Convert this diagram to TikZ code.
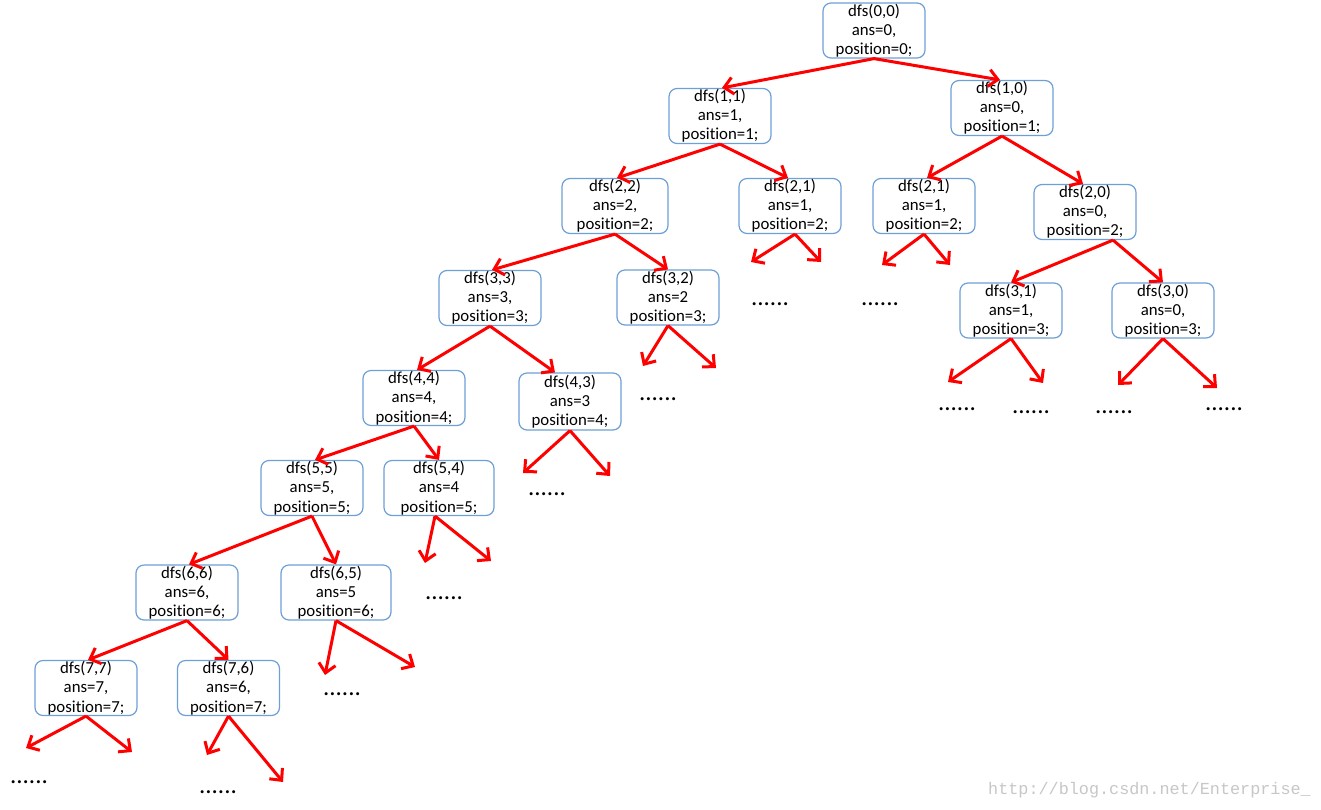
\documentclass[tikz,border=0pt]{standalone}
\usepackage{fontspec}
\setmainfont{Carlito}[Ligatures={NoCommon}]
\newfontfamily\wmfont{Liberation Mono}
\usetikzlibrary{arrows.meta,calc}
\definecolor{boxblue}{RGB}{110,160,215}
\newcommand{\tstrut}{\rule{0pt}{17pt}}
\begin{document}
\begin{tikzpicture}[x=1pt,y=-1pt,
  tbox/.style={draw=boxblue,line width=1.2pt,rounded corners=8pt,minimum width=102pt,minimum height=55pt,inner sep=0pt,align=center,font=\fontsize{16.8}{19.2}\selectfont,execute at begin node=\tstrut},
  arr/.style={draw=red,line width=3pt,-{Straight Barb[length=9pt,width=17pt,line width=3pt]}},
  dotstext/.style={inner sep=0pt,font=\fontsize{25}{25}\selectfont}]
\useasboundingbox (0,0) rectangle (1321,809);
\fill[white] (0,0) rectangle (1321,809);
% nodes
\node[tbox] (n00) at (874,30.5) {dfs(0,0)\\ans=0,\\position=0;};
\node[tbox] (n11) at (720,116) {dfs(1,1)\\ans=1,\\position=1;};
\node[tbox] (n10) at (1002,108) {dfs(1,0)\\ans=0,\\position=1;};
\node[tbox,minimum width=106pt] (n22) at (615,206) {dfs(2,2)\\ans=2,\\position=2;};
\node[tbox] (n21a) at (790,206) {dfs(2,1)\\ans=1,\\position=2;};
\node[tbox] (n21b) at (924,206) {dfs(2,1)\\ans=1,\\position=2;};
\node[tbox] (n20) at (1085,212) {dfs(2,0)\\ans=0,\\position=2;};
\node[tbox] (n33) at (490,298) {dfs(3,3)\\ans=3,\\position=3;};
\node[tbox] (n32) at (668,297.5) {dfs(3,2)\\ans=2\\position=3;};
\node[tbox] (n31) at (1011,310.5) {dfs(3,1)\\ans=1,\\position=3;};
\node[tbox] (n30) at (1163,310.5) {dfs(3,0)\\ans=0,\\position=3;};
\node[tbox] (n44) at (414,398) {dfs(4,4)\\ans=4,\\position=4;};
\node[tbox,minimum height=57pt] (n43) at (570,401.5) {dfs(4,3)\\ans=3\\position=4;};
\node[tbox] (n55) at (312,488) {dfs(5,5)\\ans=5,\\position=5;};
\node[tbox,minimum width=110pt] (n54) at (439,488) {dfs(5,4)\\ans=4\\position=5;};
\node[tbox] (n66) at (187,592.5) {dfs(6,6)\\ans=6,\\position=6;};
\node[tbox,minimum width=110pt] (n65) at (336,592.5) {dfs(6,5)\\ans=5\\position=6;};
\node[tbox] (n77) at (86,688) {dfs(7,7)\\ans=7,\\position=7;};
\node[tbox] (n76) at (228.5,688) {dfs(7,6)\\ans=6,\\position=7;};
% free ends
\coordinate (a21aL) at (751,262); \coordinate (a21aR) at (821,262);
\coordinate (a21bL) at (882,265); \coordinate (a21bR) at (950,265);
\coordinate (a32L) at (643,366); \coordinate (a32R) at (716,368);
\coordinate (a31L) at (948,382); \coordinate (a31R) at (1043,383);
\coordinate (a30L) at (1118,385); \coordinate (a30R) at (1217,388);
\coordinate (a43L) at (523,473); \coordinate (a43R) at (610,476);
\coordinate (a54L) at (425,563); \coordinate (a54R) at (491,561);
\coordinate (a65L) at (325,675); \coordinate (a65R) at (415,667);
\coordinate (a77L) at (26,748); \coordinate (a77R) at (132,752);
\coordinate (a76L) at (207,755); \coordinate (a76R) at (283,782);
% connectors
\draw[arr] (n00.south) -- ($(n11.north)+(2,0)$);
\draw[arr] (n00.south) -- ($(n10.north)+(-2,0)$);
\draw[arr] (n11.south) -- ($(n22.north)+(2,0)$);
\draw[arr] (n11.south) -- ($(n21a.north)+(-2,0)$);
\draw[arr] (n10.south) -- ($(n21b.north)+(3,0)$);
\draw[arr] (n10.south) -- ($(n20.north)+(-2,0)$);
\draw[arr] ($(n21a.south)+(5,0)$) -- (a21aL);
\draw[arr] ($(n21a.south)+(5,0)$) -- (a21aR);
\draw[arr] (n21b.south) -- (a21bL);
\draw[arr] (n21b.south) -- (a21bR);
\draw[arr] ($(n20.south)+(28,0)$) -- (n31.north);
\draw[arr] ($(n20.south)+(28,0)$) -- (n30.north);
\draw[arr] (n22.south) -- ($(n33.north)+(2,0)$);
\draw[arr] (n22.south) -- (n32.north);
\draw[arr] (n32.south) -- (a32L);
\draw[arr] (n32.south) -- (a32R);
\draw[arr] (n31.south) -- (a31L);
\draw[arr] (n31.south) -- (a31R);
\draw[arr] (n30.south) -- (a30L);
\draw[arr] (n30.south) -- (a30R);
\draw[arr] (n33.south) -- ($(n44.north)+(3,0)$);
\draw[arr] (n33.south) -- ($(n43.north)+(-15,0)$);
\draw[arr] (n43.south) -- (a43L);
\draw[arr] (n43.south) -- (a43R);
\draw[arr] (n44.south) -- ($(n55.north)+(3,0)$);
\draw[arr] (n44.south) -- (n54.north);
\draw[arr] (n55.south) -- ($(n66.north)+(2,0)$);
\draw[arr] (n55.south) -- (n65.north);
\draw[arr] ($(n54.south)+(-4,0)$) -- (a54L);
\draw[arr] ($(n54.south)+(-4,0)$) -- (a54R);
\draw[arr] (n66.south) -- ($(n77.north)+(2,0)$);
\draw[arr] (n66.south) -- (n76.north);
\draw[arr] (n65.south) -- (a65L);
\draw[arr] (n65.south) -- (a65R);
\draw[arr] (n77.south) -- (a77L);
\draw[arr] (n77.south) -- (a77R);
\draw[arr] (n76.south) -- (a76L);
\draw[arr] (n76.south) -- (a76R);
% dots
\node[dotstext] (d1) at (770,304) {......};
\node[dotstext] (d2) at (880,304) {......};
\node[dotstext] (d3) at (658,399) {......};
\node[dotstext] (d4) at (957,409) {......};
\node[dotstext] (d5) at (1031,412) {......};
\node[dotstext] (d6) at (1114,412) {......};
\node[dotstext] (d7) at (1224,409) {......};
\node[dotstext] (d8) at (547,494) {......};
\node[dotstext] (d9) at (444,598) {......};
\node[dotstext] (d10) at (342,694) {......};
\node[dotstext] (d11) at (29,782) {......};
\node[dotstext] (d12) at (218,792) {......};
% watermark
\node[anchor=west,inner sep=0pt,text=black!22,font=\wmfont\fontsize{16.8}{16.8}\selectfont] (wm) at (988,790) {http://blog.csdn.net/Enterprise\_};
\end{tikzpicture}
\end{document}
